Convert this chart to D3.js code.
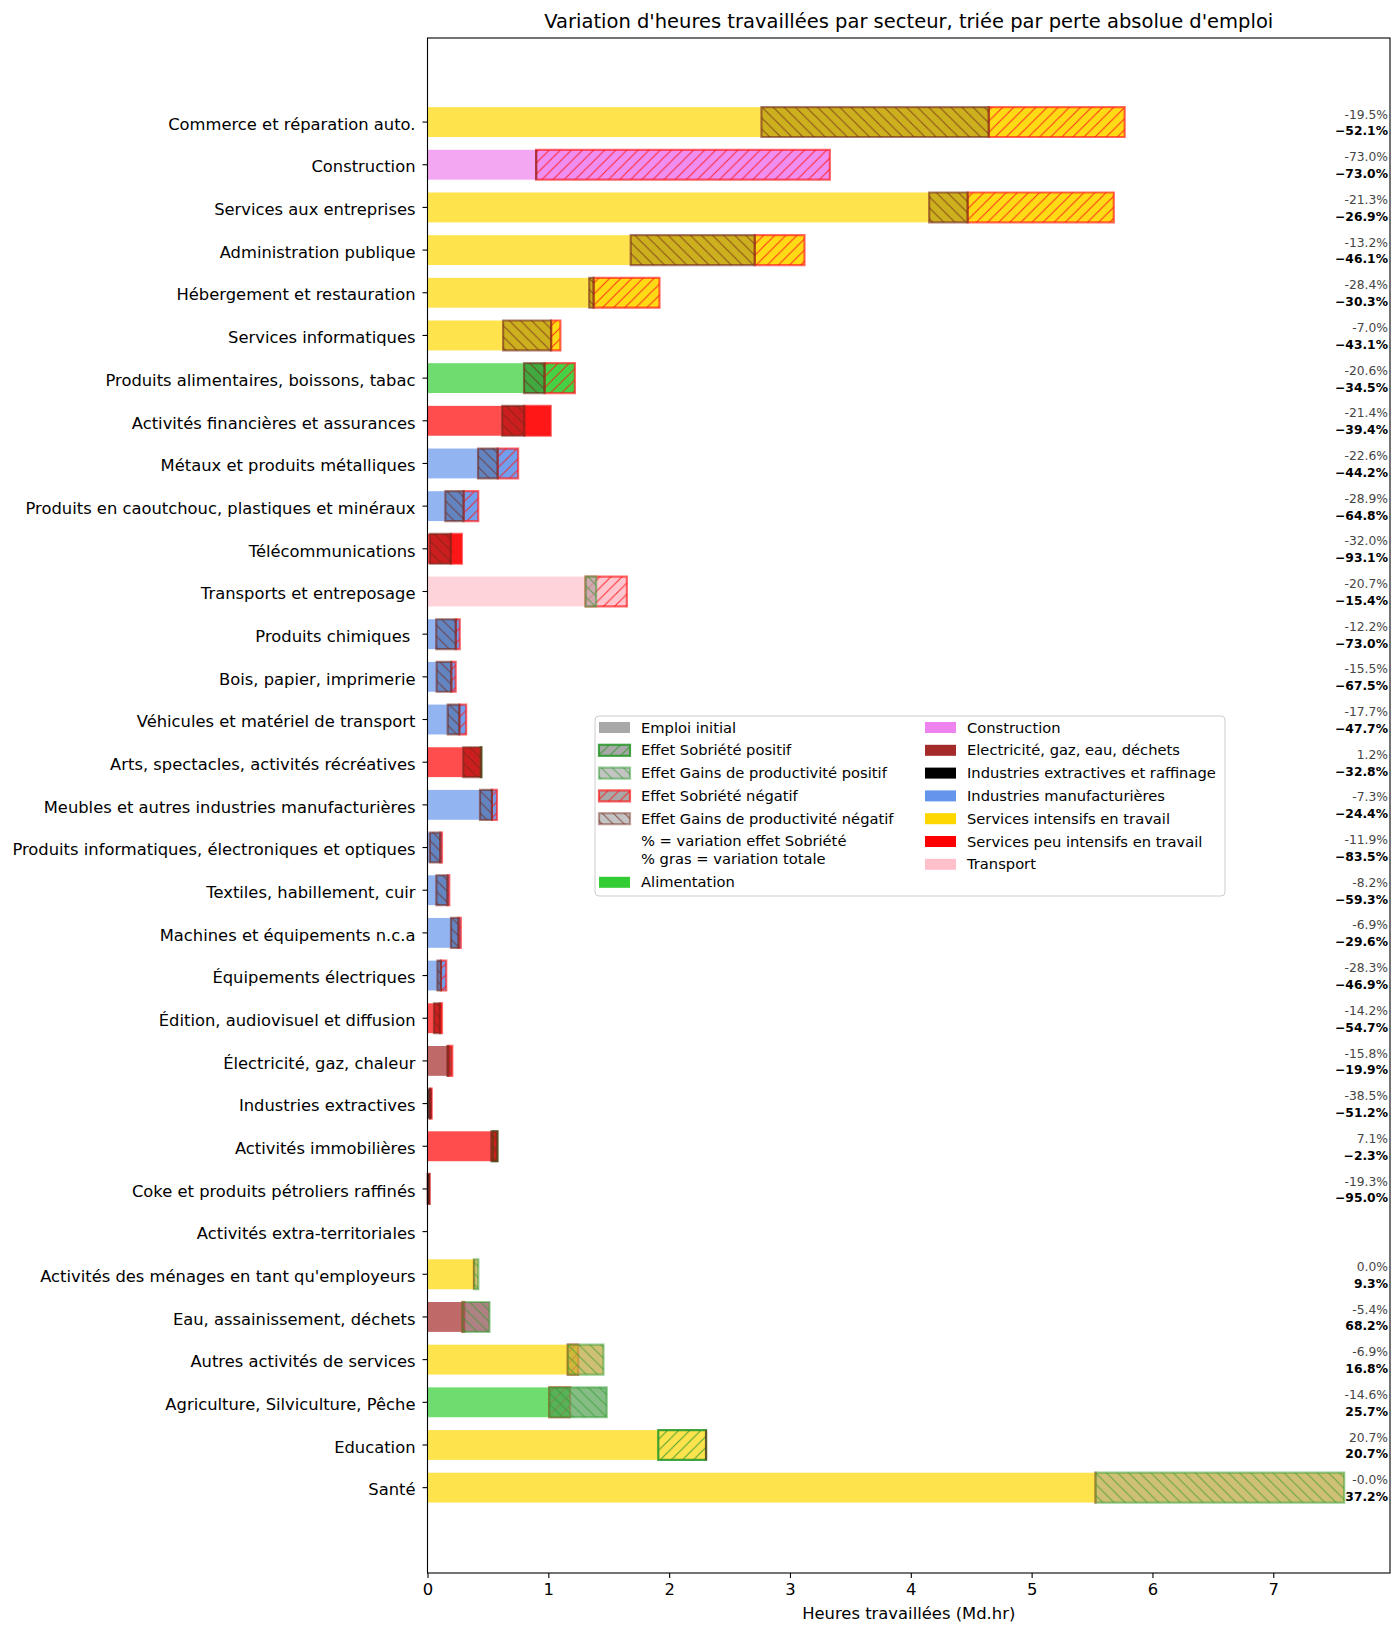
<!DOCTYPE html>
<html>
<head>
<meta charset="utf-8">
<script src="https://cdn.jsdelivr.net/npm/d3@7"></script>
<style>
  body { margin: 0; background: #fff; }
  svg text { font-family: "DejaVu Sans", sans-serif; }
</style>
</head>
<body>
<svg id="chart" width="1400" height="1635"></svg>
<script>
// secteurs, dans l'ordre d'affichage (haut -> bas)
const sectors = [
  "Commerce et réparation auto.", "Construction", "Services aux entreprises",
  "Administration publique", "Hébergement et restauration", "Services informatiques",
  "Produits alimentaires, boissons, tabac", "Activités financières et assurances",
  "Métaux et produits métalliques", "Produits en caoutchouc, plastiques et minéraux",
  "Télécommunications", "Transports et entreposage", "Produits chimiques ",
  "Bois, papier, imprimerie", "Véhicules et matériel de transport",
  "Arts, spectacles, activités récréatives", "Meubles et autres industries manufacturières",
  "Produits informatiques, électroniques et optiques", "Textiles, habillement, cuir",
  "Machines et équipements n.c.a", "Équipements électriques", "Édition, audiovisuel et diffusion",
  "Électricité, gaz, chaleur", "Industries extractives", "Activités immobilières",
  "Coke et produits pétroliers raffinés", "Activités extra-territoriales",
  "Activités des ménages en tant qu'employeurs", "Eau, assainissement, déchets",
  "Autres activités de services", "Agriculture, Silviculture, Pêche", "Education", "Santé"
];
// groupe de chaque secteur (clé de couleur)
const groups = [
  "S", "C", "S", "S", "S", "S", "A", "P", "M", "M", "P", "T", "M", "M", "M", "P", "M",
  "M", "M", "M", "M", "P", "E", "X", "P", "X", "S", "S", "E", "S", "A", "S", "S"
];
// emploi initial (Md.hr)
const initial = [
  5.77, 3.33, 5.68, 3.12, 1.92, 1.10, 1.22, 1.02, 0.75, 0.42, 0.285, 1.65, 0.267,
  0.233, 0.32, 0.44, 0.575, 0.12, 0.18, 0.276, 0.155, 0.12, 0.205, 0.035, 0.54,
  0.018, 0, 0.385, 0.305, 1.247, 1.18, 1.91, 5.53
];
// variation due à l'effet Sobriété (%)
const sobriety = [
  -19.5, -73.0, -21.3, -13.2, -28.4, -7.0, -20.6, -21.4, -22.6, -28.9, -32.0, -20.7,
  -12.2, -15.5, -17.7, 1.2, -7.3, -11.9, -8.2, -6.9, -28.3, -14.2, -15.8, -38.5, 7.1,
  -19.3, null, 0.0, -5.4, -6.9, -14.6, 20.7, -0.01
];
// variation totale (%)
const total = [
  -52.1, -73.0, -26.9, -46.1, -30.3, -43.1, -34.5, -39.4, -44.2, -64.8, -93.1, -15.4,
  -73.0, -67.5, -47.7, -32.8, -24.4, -83.5, -59.3, -29.6, -46.9, -54.7, -19.9, -51.2,
  -2.3, -95.0, null, 9.3, 68.2, 16.8, 25.7, 20.7, 37.2
];
const xTicks = [0, 1, 2, 3, 4, 5, 6, 7];

const groupNames = ["Construction", "Electricité, gaz, eau, déchets", "Industries extractives et raffinage",
  "Industries manufacturières", "Services intensifs en travail", "Services peu intensifs en travail", "Transport"];
const groupKeys = ["C", "E", "X", "M", "S", "P", "T"];
const colors = {
  A: "#32cd32", C: "#ee82ee", E: "#a52a2a", X: "#000000",
  M: "#6495ed", S: "#ffd700", P: "#ff0000", T: "#ffc0cb"
};

const RED = "#ff1a1a", GREEN = "#2e9a2e", BROWN = "rgb(115,40,28)";

const svg = d3.select("#chart");
const mLeft = 427.5, mRight = 1390, mTop = 38, mBottom = 1573;

const x = d3.scaleLinear().domain([0, 7.966]).range([mLeft, mRight]);
const y = d3.scaleLinear().domain([-1.97, sectors.length + 1.0]).range([mTop, mBottom]);
const step = y(1) - y(0);
const bh = step * 0.7;

// motifs de hachures
const defs = svg.append("defs");
function hatch(id, color, dir, op, s = 11.1) {
  const p = defs.append("pattern").attr("id", id)
    .attr("patternUnits", "userSpaceOnUse").attr("width", s).attr("height", s);
  const d = dir === "/"
    ? `M-1,1 l2,-2 M0,${s} l${s},${-s} M${s - 1},${s + 1} l2,-2`
    : `M-1,${s - 1} l2,2 M0,0 l${s},${s} M${s - 1},-1 l2,2`;
  p.append("path").attr("d", d).attr("stroke", color).attr("stroke-width", 1)
    .attr("stroke-opacity", op).attr("fill", "none");
}
hatch("hSobNeg", RED, "/", 0.9);
hatch("hSobPos", GREEN, "/", 0.9);
hatch("hProdNeg", BROWN, "\\", 0.75);
hatch("hProdPos", GREEN, "\\", 0.7);

const plot = svg.append("g");

function edge(g, x0, x1, yc, color, op) {
  g.append("path")
    .attr("d", `M${x0},${yc - bh / 2}H${x1}V${yc + bh / 2}H${x0}Z`)
    .attr("fill", "none").attr("stroke", color).attr("stroke-width", 2.2)
    .attr("stroke-opacity", op);
}

sectors.forEach((name, i) => {
  const e0 = initial[i];
  if (!e0) return;
  const col = colors[groups[i]];
  const e1 = e0 * (1 + sobriety[i] / 100);
  const e2 = e0 * (1 + total[i] / 100);
  const yc = y(i);
  const g = plot.append("g");
  const rect = (a, b) => g.append("rect")
    .attr("x", x(Math.min(a, b))).attr("width", Math.abs(x(b) - x(a)))
    .attr("y", yc - bh / 2).attr("height", bh);

  // emploi initial
  rect(0, e0).attr("fill", col).attr("fill-opacity", 0.7);

  // effet sobriété
  const sobPos = sobriety[i] > 0;
  rect(e0, e1).attr("fill", col).attr("fill-opacity", 0.7);
  rect(e0, e1).attr("fill", sobPos ? "url(#hSobPos)" : "url(#hSobNeg)");
  edge(g, x(Math.min(e0, e1)), x(Math.max(e0, e1)), yc, sobPos ? GREEN : RED, sobPos ? 0.9 : 0.65);

  // effet gains de productivité
  const prodPos = e2 > e1 + 1e-9;
  if (prodPos) {
    rect(e1, e2).attr("fill", col).attr("fill-opacity", 0.6);
    rect(e1, e2).attr("fill", "#888").attr("fill-opacity", 0.4);
    rect(e1, e2).attr("fill", "url(#hProdPos)");
    edge(g, x(Math.min(e1, e2)), x(Math.max(e1, e2)), yc, GREEN, 0.5);
  } else {
    rect(e1, e2).attr("fill", col).attr("fill-opacity", 0.5);
    rect(e1, e2).attr("fill", "#000").attr("fill-opacity", 0.2);
    rect(e1, e2).attr("fill", "url(#hProdNeg)");
    edge(g, x(Math.min(e1, e2)), x(Math.max(e1, e2)), yc, BROWN, 0.6);
  }
});

// étiquettes de pourcentage à droite
const fmtTot = d3.format(".1f");
sectors.forEach((name, i) => {
  if (sobriety[i] === null) return;
  const yc = y(i);
  svg.append("text").attr("x", 1388).attr("y", yc - 3.4)
    .attr("text-anchor", "end").attr("font-size", 12.3).attr("fill", "#444")
    .text(sobriety[i].toFixed(1) + "%");
  svg.append("text").attr("x", 1388).attr("y", yc + 13.4)
    .attr("text-anchor", "end").attr("font-size", 12.3).attr("font-weight", "bold").attr("fill", "#000")
    .text(fmtTot(total[i]) + "%");
});

// axes
const yAxis = svg.append("g");
sectors.forEach((name, i) => {
  yAxis.append("line").attr("x1", mLeft - 5).attr("x2", mLeft)
    .attr("y1", y(i)).attr("y2", y(i)).attr("stroke", "#000").attr("stroke-width", 1.1);
  yAxis.append("text").attr("x", mLeft - 12).attr("y", y(i) + 2).attr("dy", "0.35em")
    .attr("text-anchor", "end").attr("font-size", 16.35).style("white-space", "pre")
    .text(name);
});

const xAxis = svg.append("g").attr("transform", `translate(0,${mBottom})`)
  .call(d3.axisBottom(x).tickValues(xTicks).tickFormat(d3.format("d")).tickSize(5).tickPadding(5));
xAxis.select(".domain").remove();
xAxis.selectAll("text").attr("font-size", 16.4).attr("font-family", "DejaVu Sans").attr("fill", "#000");
xAxis.selectAll("line").attr("stroke-width", 1.1);

svg.append("rect").attr("x", mLeft).attr("y", mTop).attr("width", mRight - mLeft).attr("height", mBottom - mTop)
  .attr("fill", "none").attr("stroke", "#000").attr("stroke-width", 1.1);

svg.append("text").attr("x", (mLeft + mRight) / 2).attr("y", 1619).attr("text-anchor", "middle")
  .attr("font-size", 16.4).text("Heures travaillées (Md.hr)");
svg.append("text").attr("x", (mLeft + mRight) / 2).attr("y", 28).attr("text-anchor", "middle")
  .attr("font-size", 19.5).text("Variation d'heures travaillées par secteur, triée par perte absolue d'emploi");

// légende
const lg = svg.append("g");
lg.append("rect").attr("x", 595).attr("y", 716).attr("width", 630).attr("height", 180)
  .attr("rx", 4).attr("fill", "#fff").attr("fill-opacity", 0.8).attr("stroke", "#ccc");

const legendLeft = [
  { label: "Emploi initial", fill: "#a8a8a8" },
  { label: "Effet Sobriété positif", fill: "#a8a8a8", hatch: "hSobPos", stroke: GREEN, op: 0.9 },
  { label: "Effet Gains de productivité positif", fill: "#c4c4c4", hatch: "hProdPos", stroke: GREEN, op: 0.5 },
  { label: "Effet Sobriété négatif", fill: "#a8a8a8", hatch: "hSobNeg", stroke: RED, op: 0.7 },
  { label: "Effet Gains de productivité négatif", fill: "#c4c4c4", hatch: "hProdNeg", stroke: BROWN, op: 0.45 }
];
const rowStep = 22.8, row0 = 727.5;
function patch(px, py, item) {
  lg.append("rect").attr("x", px).attr("y", py - 5.5).attr("width", 31).attr("height", 11).attr("fill", item.fill);
  if (item.hatch) {
    lg.append("rect").attr("x", px).attr("y", py - 5.5).attr("width", 31).attr("height", 11)
      .attr("fill", `url(#${item.hatch})`).attr("stroke", item.stroke)
      .attr("stroke-width", 2.2).attr("stroke-opacity", item.op);
  }
}
function ltext(tx, ty, t) {
  lg.append("text").attr("x", tx).attr("y", ty).attr("dy", "0.35em").attr("font-size", 14.7).text(t);
}
legendLeft.forEach((d, k) => { patch(599, row0 + k * rowStep, d); ltext(641, row0 + k * rowStep, d.label); });
ltext(641, 840.7, "% = variation effet Sobriété");
ltext(641, 858.5, "% gras = variation totale");
patch(599, 882.3, { fill: colors.A });
ltext(641, 882.3, "Alimentation");
groupKeys.forEach((k, j) => {
  const ry = row0 + j * rowStep;
  patch(925, ry, { fill: colors[k] });
  ltext(967, ry, groupNames[j]);
});
</script>
</body>
</html>
